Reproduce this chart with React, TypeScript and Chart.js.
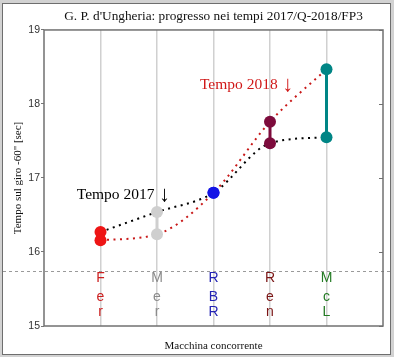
import React, { useEffect, useRef } from 'react';
import { Chart, registerables } from 'chart.js';

Chart.register(...registerables);

const chartTitle = "G. P. d'Ungheria: progresso nei tempi 2017/Q-2018/FP3";
const yTitle = 'Tempo sul giro -60" [sec]';
const xTitle = 'Macchina concorrente';
const categories = ['Fer', 'Mer', 'RBR', 'Ren', 'McL'];
const times2017 = [16.27, 16.54, 16.8, 17.47, 17.55];
const times2018 = [16.16, 16.24, 16.8, 17.76, 18.47];
const yTicks = [15, 16, 17, 18, 19];
const refLineValue = 15.74;
const markerColors = ['#ee1515', '#cfcfcf', '#1414e6', '#7d0b3c', '#008585'];
const labelColors = ['#cc1f1f', '#8a8a8a', '#2424b4', '#7a1414', '#237a23'];
const label2017 = 'Tempo 2017';
const label2018 = 'Tempo 2018';
const arrowGlyph = '\u2193';
const label2017Pos = { x: 0.58, y: 16.716 };
const label2018Pos = { x: 2.76, y: 18.2 };

const SERIF = "'Liberation Serif', 'Times New Roman', serif";
const SANS = "'Liberation Sans', Arial, sans-serif";

const decor = {
  id: 'decor',
  beforeDraw(chart: any) {
    const { ctx, width, height } = chart;
    ctx.save();
    ctx.fillStyle = '#d2d2d2';
    ctx.fillRect(0, 0, width, height);
    ctx.fillStyle = '#ffffff';
    ctx.fillRect(3, 4, width - 7, height - 7);
    ctx.strokeStyle = '#6e6e6e';
    ctx.lineWidth = 1;
    ctx.strokeRect(2.5, 3.5, width - 6, height - 6);
    ctx.restore();
  },
  beforeDatasetsDraw(chart: any) {
    const { ctx, chartArea, scales } = chart;
    const xs = scales.x;
    const ys = scales.y;
    ctx.save();
    ctx.font = `14px ${SANS}`;
    ctx.textAlign = 'center';
    ctx.textBaseline = 'alphabetic';
    const offsets = [44, 25, 10];
    categories.forEach((c, i) => {
      const px = xs.getPixelForValue(i + 1);
      ctx.fillStyle = labelColors[i];
      c.split('').forEach((ch, k) => {
        ctx.fillText(ch, px, chartArea.bottom - offsets[k]);
      });
    });
    const py = Math.round(ys.getPixelForValue(refLineValue)) + 0.5;
    ctx.strokeStyle = '#9a9a9a';
    ctx.lineWidth = 1;
    ctx.setLineDash([3, 3]);
    ctx.beginPath();
    ctx.moveTo(3, py);
    ctx.lineTo(chart.width - 4, py);
    ctx.stroke();
    ctx.restore();
  },
  afterDatasetsDraw(chart: any) {
    const { ctx, scales } = chart;
    const xs = scales.x;
    const ys = scales.y;
    const drawLabel = (text: string, pos: { x: number; y: number }, color: string) => {
      const px = xs.getPixelForValue(pos.x);
      const py = ys.getPixelForValue(pos.y);
      ctx.fillStyle = color;
      ctx.font = `15.5px ${SERIF}`;
      ctx.textAlign = 'left';
      ctx.textBaseline = 'alphabetic';
      ctx.fillText(text, px, py);
      const w = ctx.measureText(text).width;
      ctx.font = `22px ${SERIF}`;
      ctx.textAlign = 'center';
      ctx.fillText(arrowGlyph, px + w + 10, py + 2);
    };
    ctx.save();
    drawLabel(label2017, label2017Pos, '#000000');
    drawLabel(label2018, label2018Pos, '#d01818');
    ctx.restore();
  },
  afterDraw(chart: any) {
    const { ctx, chartArea, scales } = chart;
    ctx.save();
    ctx.strokeStyle = '#707070';
    ctx.lineWidth = 1.5;
    ctx.strokeRect(chartArea.left, chartArea.top, chartArea.right - chartArea.left, chartArea.bottom - chartArea.top);
    // inward tick marks on the right edge
    ctx.lineWidth = 1;
    ctx.beginPath();
    yTicks.forEach((v) => {
      const py = Math.round(scales.y.getPixelForValue(v)) + 0.5;
      ctx.moveTo(chartArea.right - 4, py);
      ctx.lineTo(chartArea.right, py);
    });
    ctx.stroke();
    ctx.restore();
  },
};

export default function App() {
  const ref = useRef<HTMLCanvasElement>(null);
  useEffect(() => {
    document.body.style.margin = '0';
    const canvas = ref.current;
    if (!canvas) return;
    const lineDs = (vals: number[], color: string) => ({
      type: 'line',
      data: vals.map((v, i) => ({ x: i + 1, y: v })),
      borderColor: color,
      borderWidth: 2,
      borderDash: [2, 4.5],
      pointRadius: 0,
      fill: false,
      cubicInterpolationMode: 'monotone',
      order: 2,
    });
    const pairDs = categories.map((c, i) => ({
      type: 'line',
      label: c,
      data: [
        { x: i + 1, y: times2017[i] },
        { x: i + 1, y: times2018[i] },
      ],
      borderColor: markerColors[i],
      backgroundColor: markerColors[i],
      borderWidth: 3,
      pointRadius: 6,
      pointBorderWidth: 0,
      pointBackgroundColor: markerColors[i],
      fill: false,
      order: 0,
    }));
    const chart = new Chart(canvas, {
      type: 'line',
      data: {
        datasets: [lineDs(times2017, '#000000'), lineDs(times2018, '#c81818'), ...pairDs] as any,
      },
      options: {
        responsive: false,
        animation: false,
        devicePixelRatio: 1,
        layout: { padding: { left: 0, right: 11, top: 0, bottom: 0 } },
        plugins: {
          legend: { display: false },
          tooltip: { enabled: false },
          title: {
            display: true,
            text: chartTitle,
            fullSize: false,
            color: '#111111',
            font: { family: SERIF, size: 13.3, weight: 'normal' },
            padding: { top: 9, bottom: 5 },
          },
        },
        scales: {
          x: {
            type: 'linear',
            min: 0,
            max: 6,
            afterFit: (s: any) => {
              s.height = 31;
            },
            afterBuildTicks: (s: any) => {
              s.ticks = categories.map((_, i) => ({ value: i + 1 }));
            },
            ticks: { display: false },
            grid: { color: '#d0d0d0', lineWidth: 1.5, drawTicks: false },
            border: { display: false },
            title: {
              display: true,
              text: xTitle,
              color: '#111111',
              font: { family: SERIF, size: 11 },
              padding: { top: 0, bottom: 4 },
            },
          },
          y: {
            type: 'linear',
            min: 15,
            max: 19,
            afterFit: (s: any) => {
              s.width = 44;
            },
            afterBuildTicks: (s: any) => {
              s.ticks = yTicks.map((v) => ({ value: v }));
            },
            ticks: {
              color: '#333333',
              font: { family: SANS, size: 10.5 },
              padding: 1,
            },
            grid: { drawOnChartArea: false, drawTicks: true, tickLength: 3, color: '#777777' },
            border: { display: false },
            title: {
              display: true,
              text: yTitle,
              color: '#111111',
              font: { family: SERIF, size: 11 },
              padding: { top: 12, bottom: 0 },
            },
          },
        },
      } as any,
      plugins: [decor],
    });
    return () => chart.destroy();
  }, []);
  return <canvas ref={ref} width={394} height={357} style={{ display: 'block' }} />;
}
